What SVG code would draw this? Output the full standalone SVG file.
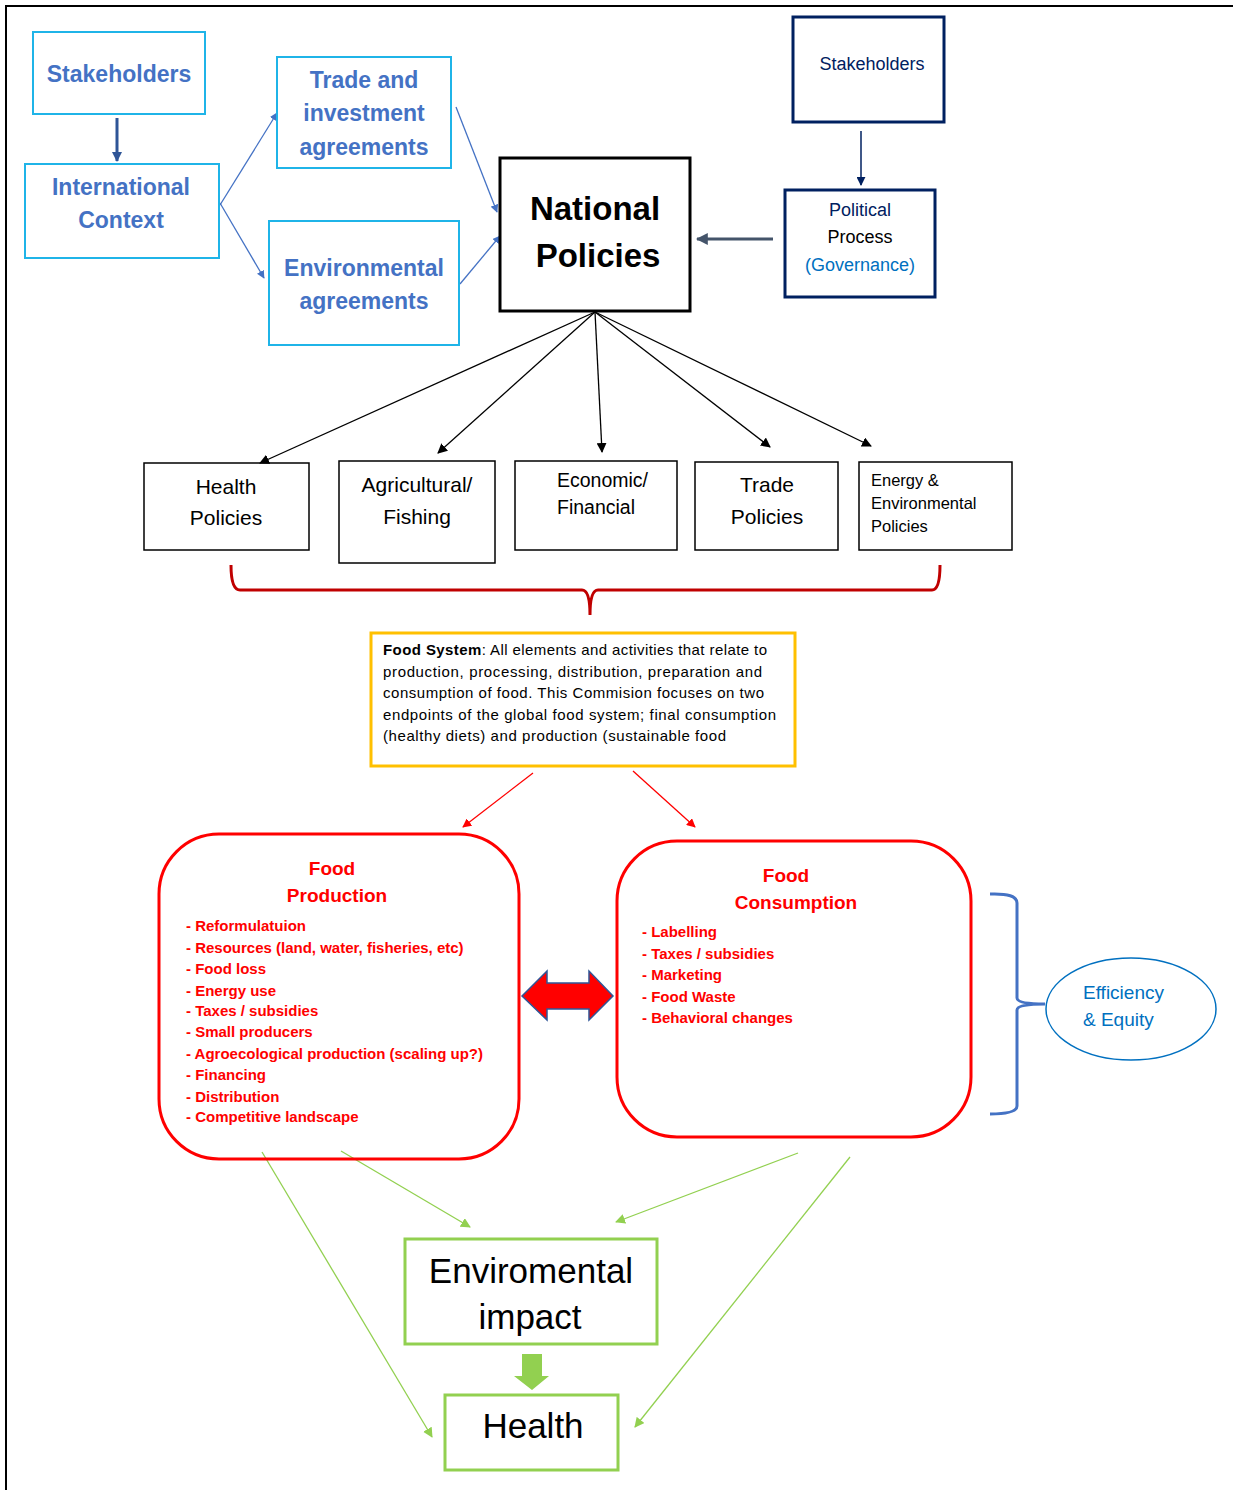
<svg xmlns="http://www.w3.org/2000/svg" width="1233" height="1490" viewBox="0 0 1233 1490">
<defs>
<style>
text{font-family:"Liberation Sans",Arial,sans-serif;dominant-baseline:central}
.lb{fill:none;stroke:#1FB4E8;stroke-width:2}
.lbt{fill:#4472C4;font-weight:bold;font-size:23px;text-anchor:middle}
.nv{fill:none;stroke:#002060;stroke-width:3}
.blk{fill:none;stroke:#000;stroke-width:1.5}
.pt{fill:#000;font-size:21px;text-anchor:middle}
.rr{fill:none;stroke:#FF0000;stroke-width:3}
.rt{fill:#FF0000;font-weight:bold;font-size:19px;text-anchor:middle}
.ri{fill:#FF0000;font-weight:bold;font-size:15px}
.gb{fill:none;stroke:#92D050;stroke-width:3}
.gt{fill:#000;font-size:35px;text-anchor:middle}
.fs{fill:#000;font-size:15px}
</style>
<marker id="mb" viewBox="0 0 10 10" refX="9" refY="5" markerWidth="8" markerHeight="8" orient="auto" markerUnits="userSpaceOnUse"><path d="M0,0 L10,5 L0,10 z" fill="#4472C4"/></marker>
<marker id="mk" viewBox="0 0 10 10" refX="9" refY="5" markerWidth="10" markerHeight="10" orient="auto" markerUnits="userSpaceOnUse"><path d="M0,0 L10,5 L0,10 z" fill="#000"/></marker>
<marker id="mn" viewBox="0 0 10 10" refX="9" refY="5" markerWidth="9" markerHeight="9" orient="auto" markerUnits="userSpaceOnUse"><path d="M0,0 L10,5 L0,10 z" fill="#002060"/></marker>
<marker id="mg" viewBox="0 0 10 10" refX="9" refY="5" markerWidth="10" markerHeight="10" orient="auto" markerUnits="userSpaceOnUse"><path d="M0,0 L10,5 L0,10 z" fill="#92D050"/></marker>
<marker id="mr" viewBox="0 0 10 10" refX="9" refY="5" markerWidth="9" markerHeight="9" orient="auto" markerUnits="userSpaceOnUse"><path d="M0,0 L10,5 L0,10 z" fill="#FF0000"/></marker>
<marker id="md" viewBox="0 0 10 10" refX="9" refY="5" markerWidth="10" markerHeight="10" orient="auto" markerUnits="userSpaceOnUse"><path d="M0,0 L10,5 L0,10 z" fill="#2F5597"/></marker>
<marker id="ms" viewBox="0 0 10 10" refX="9" refY="5" markerWidth="12" markerHeight="12" orient="auto" markerUnits="userSpaceOnUse"><path d="M0,0 L10,5 L0,10 z" fill="#44546A"/></marker>
</defs>
<rect width="1233" height="1490" fill="#fff"/>
<path d="M6,1490 V6 H1233" fill="none" stroke="#000" stroke-width="2"/>

<g id="connectors">
<line x1="117" y1="118" x2="117" y2="161" stroke="#2F5597" stroke-width="3" marker-end="url(#md)"/>
<g stroke="#4472C4" stroke-width="1.3">
<line x1="220" y1="205" x2="277" y2="113" marker-end="url(#mb)"/>
<line x1="220" y1="203" x2="264" y2="278" marker-end="url(#mb)"/>
<line x1="456" y1="107" x2="497" y2="212" marker-end="url(#mb)"/>
<line x1="460" y1="284" x2="500" y2="236" marker-end="url(#mb)"/>
</g>
<line x1="861" y1="131" x2="861" y2="185" stroke="#002060" stroke-width="1.5" marker-end="url(#mn)"/>
<line x1="773" y1="239" x2="697" y2="239" stroke="#44546A" stroke-width="3" marker-end="url(#ms)"/>
<g stroke="#000" stroke-width="1.3">
<line x1="595" y1="312" x2="260" y2="463" marker-end="url(#mk)"/>
<line x1="595" y1="312" x2="438" y2="453" marker-end="url(#mk)"/>
<line x1="595" y1="312" x2="602" y2="452" marker-end="url(#mk)"/>
<line x1="595" y1="312" x2="770" y2="447" marker-end="url(#mk)"/>
<line x1="595" y1="312" x2="871" y2="446" marker-end="url(#mk)"/>
</g>
<path d="M231,565 Q231,590 240,590 H582 Q590,590 590,615 Q590,590 598,590 H932 Q940,590 940,565" fill="none" stroke="#C00000" stroke-width="3"/>
<g stroke="#FF0000" stroke-width="1.3">
<line x1="533" y1="773" x2="463" y2="827" marker-end="url(#mr)"/>
<line x1="633" y1="771" x2="695" y2="827" marker-end="url(#mr)"/>
</g>
<path d="M522,996 L547,971 L547,983 L589,983 L589,971 L613,996 L589,1020 L589,1009 L547,1009 L547,1020 Z" fill="#FF0000" stroke="#2F5597" stroke-width="1.5"/>
<path d="M990,894 Q1017,893 1017,903 V998 Q1017,1004 1045,1004 Q1017,1004 1017,1010 V1106 Q1017,1114 990,1114" fill="none" stroke="#4472C4" stroke-width="3"/>
<g stroke="#92D050" stroke-width="1.3">
<line x1="262" y1="1152" x2="432" y2="1437" marker-end="url(#mg)"/>
<line x1="341" y1="1151" x2="470" y2="1227" marker-end="url(#mg)"/>
<line x1="798" y1="1153" x2="616" y2="1222" marker-end="url(#mg)"/>
<line x1="850" y1="1157" x2="635" y2="1427" marker-end="url(#mg)"/>
</g>
<path d="M522,1354 H542 V1376 H549 L532,1390 L514,1376 H522 Z" fill="#92D050"/>
</g>

<g id="stakeholders-left">
<rect class="lb" x="33" y="32" width="172" height="82"/>
<text class="lbt" x="119" y="74">Stakeholders</text>
</g>
<g id="international-context">
<rect class="lb" x="25" y="164" width="194" height="94"/>
<text class="lbt" x="121" y="187">International</text>
<text class="lbt" x="121" y="220">Context</text>
</g>
<g id="trade-agreements">
<rect class="lb" x="277" y="57" width="174" height="111"/>
<text class="lbt" x="364" y="80">Trade and</text>
<text class="lbt" x="364" y="113">investment</text>
<text class="lbt" x="364" y="147">agreements</text>
</g>
<g id="environmental-agreements">
<rect class="lb" x="269" y="221" width="190" height="124"/>
<text class="lbt" x="364" y="268">Environmental</text>
<text class="lbt" x="364" y="301">agreements</text>
</g>
<g id="national-policies">
<rect x="500" y="158" width="190" height="153" fill="none" stroke="#000" stroke-width="3"/>
<text x="595" y="208" font-size="33" font-weight="bold" text-anchor="middle">National</text>
<text x="598" y="255" font-size="33" font-weight="bold" text-anchor="middle">Policies</text>
</g>
<g id="stakeholders-right">
<rect class="nv" x="793" y="17" width="151" height="105"/>
<text x="872" y="64" font-size="18" fill="#002060" text-anchor="middle">Stakeholders</text>
</g>
<g id="political-process">
<rect class="nv" x="785" y="190" width="150" height="107"/>
<text x="860" y="210" font-size="18" fill="#002060" text-anchor="middle">Political</text>
<text x="860" y="237" font-size="18" fill="#000" text-anchor="middle">Process</text>
<text x="860" y="265" font-size="18" fill="#0070C0" text-anchor="middle">(Governance)</text>
</g>
<g id="health-policies">
<rect class="blk" x="144" y="463" width="165" height="87"/>
<text class="pt" x="226" y="486">Health</text>
<text class="pt" x="226" y="517">Policies</text>
</g>
<g id="agricultural-fishing">
<rect class="blk" x="339" y="461" width="156" height="102"/>
<text class="pt" x="417" y="484">Agricultural/</text>
<text class="pt" x="417" y="516">Fishing</text>
</g>
<g id="economic-financial">
<rect class="blk" x="515" y="461" width="162" height="89"/>
<text x="557" y="480" font-size="19.5">Economic/</text>
<text x="557" y="507" font-size="19.5">Financial</text>
</g>
<g id="trade-policies">
<rect class="blk" x="695" y="462" width="143" height="88"/>
<text class="pt" x="767" y="484">Trade</text>
<text class="pt" x="767" y="516">Policies</text>
</g>
<g id="energy-policies">
<rect class="blk" x="859" y="462" width="153" height="88"/>
<text x="871" y="480" font-size="16.5">Energy &amp;</text>
<text x="871" y="503" font-size="16.5">Environmental</text>
<text x="871" y="526" font-size="16.5">Policies</text>
</g>
<g id="food-system">
<rect x="371" y="633" width="424" height="133" fill="none" stroke="#FFC000" stroke-width="3"/>
<text class="fs" x="383" y="649" textLength="384" lengthAdjust="spacing"><tspan font-weight="bold">Food System</tspan>:  All elements and activities that relate to</text>
<text class="fs" x="383" y="671" textLength="379" lengthAdjust="spacing">production, processing, distribution, preparation and</text>
<text class="fs" x="383" y="692" textLength="381" lengthAdjust="spacing">consumption of food. This Commision focuses on two</text>
<text class="fs" x="383" y="714" textLength="393" lengthAdjust="spacing">endpoints of the global food system;  final consumption</text>
<text class="fs" x="383" y="735" textLength="343" lengthAdjust="spacing">(healthy diets) and production (sustainable food</text>
</g>
<g id="food-production">
<rect class="rr" x="159" y="834" width="360" height="325" rx="60"/>
<text class="rt" x="332" y="868">Food</text>
<text class="rt" x="337" y="895">Production</text>
<text class="ri" x="186" y="925">- Reformulatuion</text>
<text class="ri" x="186" y="947">- Resources (land, water,  fisheries, etc)</text>
<text class="ri" x="186" y="968">- Food loss</text>
<text class="ri" x="186" y="990">- Energy use</text>
<text class="ri" x="186" y="1010">- Taxes / subsidies</text>
<text class="ri" x="186" y="1031">- Small producers</text>
<text class="ri" x="186" y="1053">- Agroecological production (scaling up?)</text>
<text class="ri" x="186" y="1074">- Financing</text>
<text class="ri" x="186" y="1096">- Distribution</text>
<text class="ri" x="186" y="1116">- Competitive landscape</text>
</g>
<g id="food-consumption">
<rect class="rr" x="617" y="841" width="354" height="296" rx="60"/>
<text class="rt" x="786" y="875">Food</text>
<text class="rt" x="796" y="902">Consumption</text>
<text class="ri" x="642" y="931">- Labelling</text>
<text class="ri" x="642" y="953">- Taxes / subsidies</text>
<text class="ri" x="642" y="974">- Marketing</text>
<text class="ri" x="642" y="996">- Food Waste</text>
<text class="ri" x="642" y="1017">- Behavioral changes</text>
</g>
<g id="efficiency-equity">
<ellipse cx="1131" cy="1009" rx="85" ry="51" fill="none" stroke="#0070C0" stroke-width="1.5"/>
<text x="1083" y="992" font-size="19" fill="#0070C0">Efficiency</text>
<text x="1083" y="1019" font-size="19" fill="#0070C0">&amp; Equity</text>
</g>
<g id="environmental-impact">
<rect class="gb" x="405" y="1239" width="252" height="105"/>
<text class="gt" x="531" y="1270">Enviromental</text>
<text class="gt" x="530" y="1316">impact</text>
</g>
<g id="health">
<rect class="gb" x="445" y="1395" width="173" height="75"/>
<text class="gt" x="533" y="1425">Health</text>
</g>
</svg>
